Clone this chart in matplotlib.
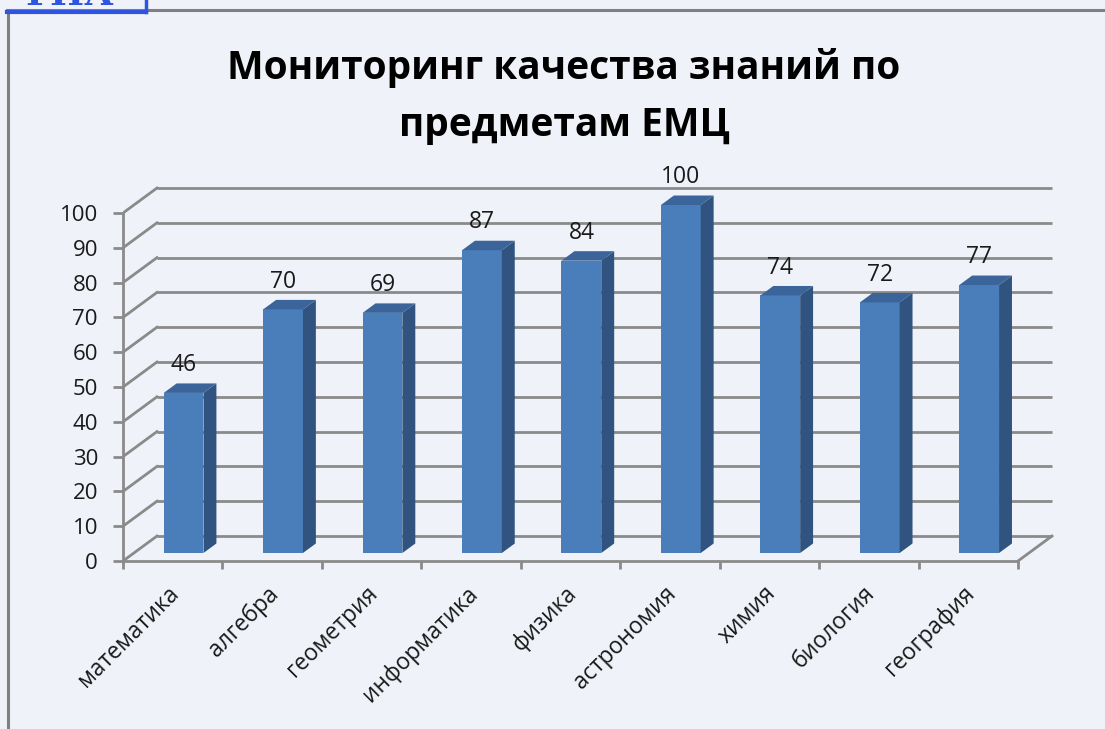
import matplotlib
matplotlib.use("Agg")
import matplotlib.pyplot as plt
from matplotlib.patches import Polygon
import numpy as np

plt.rcParams['font.family'] = ['Open Sans', 'DejaVu Sans']

categories = ["математика", "алгебра", "геометрия", "информатика", "физика",
              "астрономия", "химия", "биология", "география"]
values = [46, 70, 69, 87, 84, 100, 74, 72, 77]
yticks = list(range(0, 101, 10))
title_lines = ["Мониторинг качества знаний по", "предметам ЕМЦ"]

W_PX, H_PX = 1105, 729
fig = plt.figure(figsize=(W_PX / 100, H_PX / 100), dpi=100)
bg = '#eff2f8'
fig.patch.set_facecolor(bg)

# geometry (pixel estimates from reference)
px_per_cat = 895 / 9
px_per_unit = 3.48
DX = 34 / px_per_cat      # depth offset in category units
DY = 25 / px_per_unit     # depth offset in value units
XMAX, YMAX = 9.4, 108
ax = fig.add_axes([123 / W_PX, (H_PX - 561) / H_PX,
                   XMAX * px_per_cat / W_PX, YMAX * px_per_unit / H_PX])
ax.set_xlim(0, XMAX)
ax.set_ylim(0, YMAX)
ax.patch.set_visible(False)

grid_c = '#8a8a8a'
n = len(categories)
# back wall gridlines + side-wall diagonals
for v in yticks:
    ax.plot([DX, n + DX], [v + DY, v + DY], color=grid_c, lw=2, zorder=1,
            solid_capstyle='butt')
    ax.plot([0, DX], [v, v + DY], color=grid_c, lw=2, zorder=1)
# floor right edge
ax.plot([n, n + DX], [0, DY], color=grid_c, lw=2, zorder=1)

# bars
f0, f1 = 0.32, 0.70
bw = 0.40
front_c, side_c, top_c = '#4a7ebb', '#30537f', '#3b659a'
centers = np.arange(n) + 0.5
ax.bar(centers + f0 * DX, values, bottom=f0 * DY, width=bw, color=front_c,
       zorder=3)
ddx, ddy = (f1 - f0) * DX, (f1 - f0) * DY
for c, v in zip(centers, values):
    x0 = c + f0 * DX - bw / 2
    x1 = x0 + bw
    yb = f0 * DY
    yt = yb + v
    ax.add_patch(Polygon([(x1, yb), (x1 + ddx, yb + ddy), (x1 + ddx, yt + ddy), (x1, yt)],
                         closed=True, facecolor=side_c, edgecolor='none', zorder=3))
    ax.add_patch(Polygon([(x0, yt), (x1, yt), (x1 + ddx, yt + ddy), (x0 + ddx, yt + ddy)],
                         closed=True, facecolor=top_c, edgecolor='none', zorder=3))
    ax.text(c + f0 * DX, yt + 8, str(v), ha='center', va='center',
            fontsize=16.5, color='#1a1a1a', zorder=4)

# axes spines / ticks
for s in ['top', 'right']:
    ax.spines[s].set_visible(False)
ax.spines['left'].set_bounds(0, 100)
ax.spines['bottom'].set_bounds(0, n)
for s in ['left', 'bottom']:
    ax.spines[s].set_color(grid_c)
    ax.spines[s].set_linewidth(2)
ax.set_yticks(yticks)
ax.tick_params(axis='y', direction='out', length=7, width=2, color=grid_c,
               pad=11, labelsize=16, labelcolor='#1a1a1a')
ax.set_xticks(np.arange(n + 1))
ax.set_xticklabels([])
ax.tick_params(axis='x', which='major', direction='out', length=6, width=2,
               color=grid_c)
ax.set_xticks(centers + 0.03, minor=True)
ax.set_xticklabels(categories, minor=True)
ax.tick_params(axis='x', which='minor', length=0, pad=21, labelsize=16.5,
               labelcolor='#1a1a1a')
for lab in ax.get_xticklabels(minor=True):
    lab.set_rotation(45)
    lab.set_ha('right')
    lab.set_va('center')
    lab.set_rotation_mode('anchor')

# title
fig.text(564 / W_PX, 1 - 79 / H_PX, title_lines[0], ha='center', va='baseline',
         fontsize=28, fontweight='bold', color='black')
fig.text(564 / W_PX, 1 - 136 / H_PX, title_lines[1], ha='center', va='baseline',
         fontsize=28, fontweight='bold', color='black')

# outer frame lines
fig.add_artist(plt.Line2D([7 / W_PX, 1], [1 - 9.5 / H_PX, 1 - 9.5 / H_PX],
                          transform=fig.transFigure, color='#808080', lw=2.2))
fig.add_artist(plt.Line2D([8 / W_PX, 8 / W_PX], [0, 1 - 9.5 / H_PX],
                          transform=fig.transFigure, color='#808080', lw=2.2))
# blue stamp fragment at top-left
stamp_c = '#2f55e0'
fig.add_artist(plt.Line2D([7 / W_PX, 146 / W_PX], [1 - 12 / H_PX, 1 - 12 / H_PX],
                          transform=fig.transFigure, color=stamp_c, lw=3))
fig.add_artist(plt.Line2D([146 / W_PX, 146 / W_PX], [1 - 12 / H_PX, 1],
                          transform=fig.transFigure, color=stamp_c, lw=2.5))
fig.text(70 / W_PX, 1 - 5 / H_PX, "ГИА", ha='center', va='baseline',
         fontsize=26, color=stamp_c, family=['DejaVu Serif'], fontweight='bold')

fig.savefig('out.png', dpi=100, facecolor=bg)
